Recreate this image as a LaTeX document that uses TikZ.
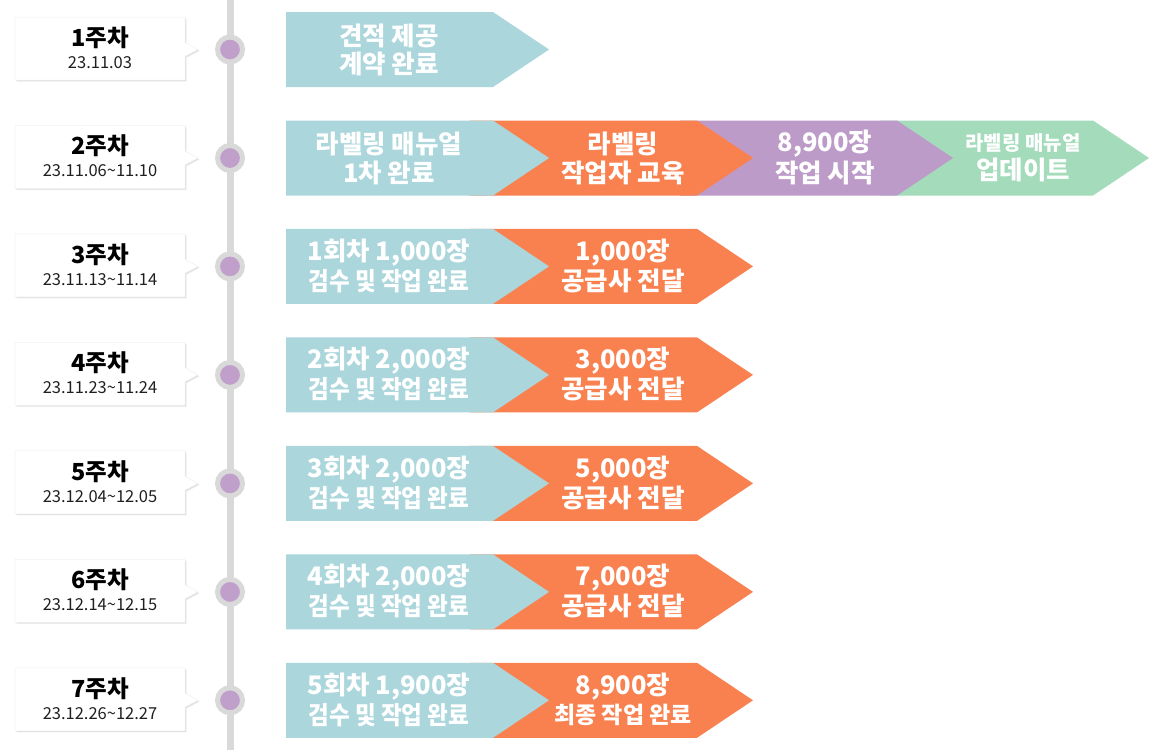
\documentclass[tikz,border=0pt]{standalone}
\usepackage{fontspec}
\setmainfont{Noto Sans CJK KR}
\newfontfamily\krcond{Noto Sans CJK KR}[FakeStretch=0.9]
\usetikzlibrary{shapes.callouts}
\definecolor{tealc}{HTML}{AAD6DC}
\definecolor{orngc}{HTML}{F98150}
\definecolor{purpc}{HTML}{BD9BC9}
\definecolor{grnc}{HTML}{A3DBBB}
\definecolor{dotc}{HTML}{C09FCB}
\definecolor{axisc}{HTML}{D9D9D9}
% chevron: x0, x1 (end of flat top), yc, colour
\newcommand\chev[4]{\fill[#4] (#1,#3-37.5) -- (#2,#3-37.5) -- (#2+56,#3) -- (#2,#3+37.5) -- (#1,#3+37.5) -- cycle;}
% week label: index, yc, title, date
\newcommand\week[4]{%
  \node[wkbox, fill=black, opacity=0.07, callout absolute pointer={(199.5,#2+1.5)}] (wk#1s) at (101.5,#2+0.5) {};
  \node[wkbox, fill=black, opacity=0.07, callout absolute pointer={(198.8,#2+0.8)}] (wk#1s2) at (100.8,#2-0.2) {};
  \node[wkbox, fill=white, draw=black!6, line width=0.5pt, callout absolute pointer={(198,#2)}] (wk#1) at (100,#2-1) {};
  \node[wktitle] (wk#1t) at (100,#2-12) {#3};
  \node[wkdate] (wk#1d) at (100,#2+13) {#4};
}
\tikzset{
  big/.style={text=white, inner sep=0pt, font=\bfseries\fontsize{25.5}{29}\selectfont},
  mid/.style={text=white, inner sep=0pt, font=\bfseries\fontsize{23}{27}\selectfont},
  small/.style={text=white, inner sep=0pt, font=\bfseries\fontsize{20}{24}\selectfont},
  cond/.style={text=white, inner sep=0pt, font=\krcond\bfseries\fontsize{25}{29}\selectfont},
  wkbox/.style={rectangle callout, minimum width=170pt, minimum height=63pt, inner sep=0pt,
     callout pointer width=14pt},
  wktitle/.style={inner sep=0pt, text=black, font=\bfseries\fontsize{23.5}{27}\selectfont},
  wkdate/.style={inner sep=0pt, text=black!88, font=\fontsize{16.5}{20}\selectfont},
  dot/.style={circle, fill=dotc, draw=axisc, line width=5pt, minimum size=25pt, inner sep=0pt},
}
\begin{document}
\begin{tikzpicture}[x=1pt,y=-1pt]
\useasboundingbox (0,0) rectangle (1160,750);
\fill[white] (0,0) rectangle (1160,750);
% axis
\coordinate (axtop) at (230,0);
\coordinate (axbot) at (230,750);
\draw[axisc, line width=7pt] (axtop) -- (axbot);
% dots
\node[dot] (dot1) at (230,49.5) {};
\node[dot] (dot2) at (230,158) {};
\node[dot] (dot3) at (230,266.4) {};
\node[dot] (dot4) at (230,374.9) {};
\node[dot] (dot5) at (230,483.4) {};
\node[dot] (dot6) at (230,591.9) {};
\node[dot] (dot7) at (230,700.3) {};
% week labels
\week{1}{49.5}{1주차}{23.11.03}
\week{2}{158}{2주차}{23.11.06\textasciitilde 11.10}
\week{3}{266.4}{3주차}{23.11.13\textasciitilde 11.14}
\week{4}{374.9}{4주차}{23.11.23\textasciitilde 11.24}
\week{5}{483.4}{5주차}{23.12.04\textasciitilde 12.05}
\week{6}{591.9}{6주차}{23.12.14\textasciitilde 12.15}
\week{7}{700.3}{7주차}{23.12.26\textasciitilde 12.27}
% row 1
\chev{286}{493}{49.5}{tealc}
\node[big] (r1a1) at (389,35.5) {견적 제공};
\node[big] (r1a2) at (389,64) {계약 완료};
% row 2
\chev{880}{1093}{158}{grnc}
\chev{680}{897}{158}{purpc}
\chev{470}{697}{158}{orngc}
\chev{286}{493}{158}{tealc}
\node[big] (r2a1) at (389,144) {라벨링 매뉴얼};
\node[big] (r2a2) at (389,172.5) {1차 완료};
\node[big] (r2b1) at (623,144) {라벨링};
\node[big] (r2b2) at (623,172.5) {작업자 교육};
\node[big] (r2c1) at (825,144) {8,900장};
\node[big] (r2c2) at (825,172.5) {작업 시작};
\node[small] (r2d1) at (1023,143) {라벨링 매뉴얼};
\node[big] (r2d2) at (1023,170) {업데이트};
% row 3
\chev{470}{697}{266.4}{orngc}
\chev{286}{493}{266.4}{tealc}
\node[big] (r3a1) at (389,252.4) {1회차 1,000장};
\node[cond] (r3a2) at (389,280.9) {검수 및 작업 완료};
\node[big] (r3b1) at (623,252.4) {1,000장};
\node[big] (r3b2) at (623,280.9) {공급사 전달};
% row 4
\chev{470}{697}{374.9}{orngc}
\chev{286}{493}{374.9}{tealc}
\node[big] (r4a1) at (389,360.9) {2회차 2,000장};
\node[cond] (r4a2) at (389,389.4) {검수 및 작업 완료};
\node[big] (r4b1) at (623,360.9) {3,000장};
\node[big] (r4b2) at (623,389.4) {공급사 전달};
% row 5
\chev{470}{697}{483.4}{orngc}
\chev{286}{493}{483.4}{tealc}
\node[big] (r5a1) at (389,469.4) {3회차 2,000장};
\node[cond] (r5a2) at (389,497.9) {검수 및 작업 완료};
\node[big] (r5b1) at (623,469.4) {5,000장};
\node[big] (r5b2) at (623,497.9) {공급사 전달};
% row 6
\chev{470}{697}{591.9}{orngc}
\chev{286}{493}{591.9}{tealc}
\node[big] (r6a1) at (389,577.9) {4회차 2,000장};
\node[cond] (r6a2) at (389,606.4) {검수 및 작업 완료};
\node[big] (r6b1) at (623,577.9) {7,000장};
\node[big] (r6b2) at (623,606.4) {공급사 전달};
% row 7
\chev{470}{697}{700.3}{orngc}
\chev{286}{493}{700.3}{tealc}
\node[big] (r7a1) at (389,686.3) {5회차 1,900장};
\node[cond] (r7a2) at (389,714.8) {검수 및 작업 완료};
\node[big] (r7b1) at (623,686.3) {8,900장};
\node[mid] (r7b2) at (623,714.8) {최종 작업 완료};
\end{tikzpicture}
\end{document}
